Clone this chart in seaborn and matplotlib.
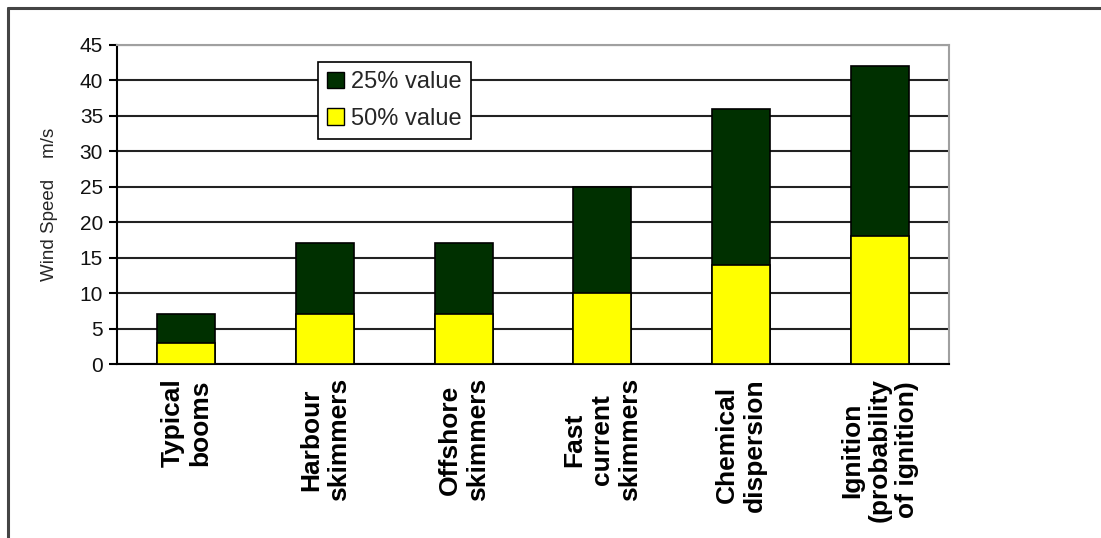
import matplotlib
matplotlib.use("Agg")
import matplotlib.pyplot as plt
import seaborn as sns
import pandas as pd
from matplotlib.lines import Line2D
from matplotlib.patches import Patch

categories = ["Typical\nbooms", "Harbour\nskimmers", "Offshore\nskimmers",
              "Fast\ncurrent\nskimmers", "Chemical\ndispersion",
              "Ignition\n(probability\nof ignition)"]
value_25 = [7, 17, 17, 25, 36, 42]
value_50 = [3, 7, 7, 10, 14, 18]
yticks = [0, 5, 10, 15, 20, 25, 30, 35, 40, 45]

sns.set_theme(style="white")
plt.rcParams['font.family'] = ['Liberation Sans', 'DejaVu Sans']

df = pd.DataFrame({"cat": categories, "v25": value_25, "v50": value_50})

fig = plt.figure(figsize=(11.01, 5.38), dpi=100)
ax = fig.add_axes([117/1101, 1-364/538, (949-117)/1101, (364-45)/538])

dark = "#003000"
yellow = "#FFFF00"
sns.barplot(data=df, x="cat", y="v25", color=dark, saturation=1, width=0.42,
            edgecolor="black", linewidth=1.2, ax=ax, zorder=3)
sns.barplot(data=df, x="cat", y="v50", color=yellow, saturation=1, width=0.42,
            edgecolor="black", linewidth=1.2, ax=ax, zorder=4)

ax.set_ylim(0, 45)
ax.set_xlim(-0.5, len(categories) - 0.5)
ax.set_yticks(yticks)
ax.set_yticklabels([str(t) for t in yticks], fontsize=15, color="#111111")
ax.yaxis.grid(True, color="#222222", linewidth=1.5, zorder=0)
ax.set_axisbelow(True)

ax.set_xticks(range(len(categories)))
ax.set_xticklabels(categories, rotation=90, fontsize=19, fontweight="bold",
                   multialignment="center", linespacing=1.2, color="black")
ax.set_xticks([i - 0.5 for i in range(len(categories) + 1)], minor=True)
ax.tick_params(axis="x", which="major", length=0, pad=10)
ax.tick_params(axis="x", which="minor", length=6, width=1.5, color="black", direction="out")
ax.tick_params(axis="y", which="major", length=6, width=1.5, color="black",
               direction="out", left=True, pad=4)
ax.set_xlabel("")
ax.set_ylabel("Wind Speed    m/s", fontsize=13.5, labelpad=16)

for s in ["left", "bottom"]:
    ax.spines[s].set_color("black")
    ax.spines[s].set_linewidth(1.5)
for s in ["top", "right"]:
    ax.spines[s].set_color("#a0a0a0")
    ax.spines[s].set_linewidth(1.5)
    ax.spines[s].set_visible(True)

handles = [Patch(facecolor=dark, edgecolor="black", label="25% value"),
           Patch(facecolor=yellow, edgecolor="black", label="50% value")]
leg = fig.legend(handles=handles, loc="upper left",
                 bbox_to_anchor=(318/1101, 1-62/538), fontsize=17,
                 frameon=True, fancybox=False, framealpha=1,
                 edgecolor="black", handlelength=0.7, handleheight=0.7,
                 handletextpad=0.3, borderpad=0.4, labelspacing=0.6,
                 borderaxespad=0)
leg.get_frame().set_linewidth(1.2)
leg.set_zorder(10)

# outer border (top and left)
fig.add_artist(Line2D([8/1101, 1.0], [1-8/538, 1-8/538], color="#444444",
                      linewidth=2.2, transform=fig.transFigure))
fig.add_artist(Line2D([8/1101, 8/1101], [0.0, 1-8/538], color="#444444",
                      linewidth=2.2, transform=fig.transFigure))

fig.savefig("out.png", dpi=100, facecolor="white")
